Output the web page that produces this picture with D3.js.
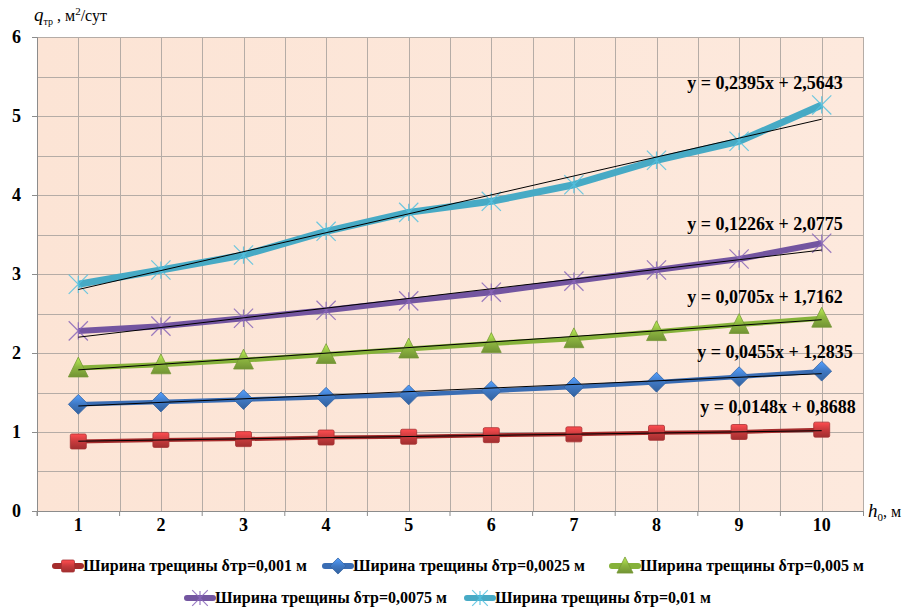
<!DOCTYPE html>
<html><head><meta charset="utf-8">
<script src="https://cdn.jsdelivr.net/npm/d3@7/dist/d3.min.js"></script>
<style>body{margin:0;background:#fff}svg{display:block}</style>
</head><body><svg id="c" width="909" height="608"></svg>
<script>
const categories = [1,2,3,4,5,6,7,8,9,10];
const s001  = [0.88,0.90,0.91,0.93,0.94,0.96,0.97,0.99,1.00,1.03];
const s0025 = [1.35,1.38,1.41,1.44,1.47,1.52,1.57,1.63,1.70,1.77];
const s005  = [1.81,1.85,1.91,1.98,2.05,2.12,2.18,2.27,2.36,2.44];
const s0075 = [2.28,2.34,2.44,2.54,2.66,2.77,2.91,3.05,3.19,3.39];
const s01   = [2.87,3.05,3.24,3.54,3.78,3.92,4.13,4.44,4.68,5.14];
const seriesNames = ["Ширина трещины δтр=0,001 м","Ширина трещины δтр=0,0025 м","Ширина трещины δтр=0,005 м","Ширина трещины δтр=0,0075 м","Ширина трещины δтр=0,01 м"];
const slopes = [0.0148,0.0455,0.0705,0.1226,0.2395];
const intercepts = [0.8688,1.2835,1.7162,2.0775,2.5643];
const eqLabels = ["y = 0,0148x + 0,8688","y = 0,0455x + 1,2835","y = 0,0705x + 1,7162","y = 0,1226x + 2,0775","y = 0,2395x + 2,5643"];
const yTicks = [0,1,2,3,4,5,6];

const allSeries = [s001,s0025,s005,s0075,s01];
const colors = ["#c83a3c","#3f78c3","#8db640","#7a5ca6","#4badc8"];
const lineColors = ["#a52c2c","#3a6db4","#86b23a","#7355a0","#47aac5"];
const lineW = [4,4.5,5,6,7];
const markers = ["square","diamond","triangle","x","x"];

const svg = d3.select("#c");
const L=37, R=863, T=37, B=511;
const x = d3.scaleBand().domain(categories).range([L,R]);
const y = d3.scaleLinear().domain([0,6]).range([B,T]);
const cx = d => x(d)+x.bandwidth()/2;

const defs = svg.append("defs");
const bg = defs.append("linearGradient").attr("id","bg").attr("x1","0").attr("x2","1");
bg.append("stop").attr("offset","0").attr("stop-color","#fce4d5");
bg.append("stop").attr("offset","1").attr("stop-color","#fde9dd");
colors.forEach((c,i)=>{
  const g = defs.append("linearGradient").attr("id","mg"+i).attr("x1","0").attr("y1","0").attr("x2","0").attr("y2","1");
  g.append("stop").attr("offset","0").attr("stop-color",d3.color(c).brighter(0.8));
  g.append("stop").attr("offset","0.5").attr("stop-color",c);
  g.append("stop").attr("offset","1").attr("stop-color",d3.color(c).darker(0.6));
});

svg.append("rect").attr("x",L).attr("y",T).attr("width",R-L).attr("height",B-T).attr("fill","url(#bg)");

// grid
const grid = svg.append("g").attr("stroke","#b5aca6").attr("stroke-width",1);
d3.range(0,6.01,0.5).forEach(v=>{
  grid.append("line").attr("x1",L).attr("x2",R).attr("y1",Math.round(y(v))+0.5).attr("y2",Math.round(y(v))+0.5);
});
d3.range(0,21).forEach(k=>{
  const xx = Math.round(L + k*x.bandwidth()/2)+0.5;
  grid.append("line").attr("x1",xx).attr("x2",xx).attr("y1",T).attr("y2",B);
});

// axes
const yAxis = d3.axisLeft(y).tickValues(yTicks).tickSize(5).tickFormat(d3.format("d"));
const ga = svg.append("g").attr("transform",`translate(${L},0)`).call(yAxis);
ga.select(".domain").attr("stroke","#8c8c8c");
ga.selectAll(".tick line").attr("stroke","#8c8c8c");
ga.selectAll("text").attr("font-family","Liberation Serif").attr("font-weight","bold").attr("font-size",18).attr("fill","#000").attr("dx",-8);

const xAxis = d3.axisBottom(x).tickSize(5);
const gx = svg.append("g").attr("transform",`translate(0,${B})`).call(xAxis);
gx.select(".domain").attr("stroke","#8c8c8c");
gx.selectAll(".tick line").attr("stroke","#8c8c8c").attr("transform",`translate(${-x.bandwidth()/2},0)`);
gx.selectAll("text").attr("font-family","Liberation Serif").attr("font-weight","bold").attr("font-size",18).attr("fill","#000").attr("dy",12);
svg.append("line").attr("x1",R+0.5).attr("x2",R+0.5).attr("y1",B).attr("y2",B+5).attr("stroke","#8c8c8c");

function drawMarker(g, type, i, px, py, size){
  const c = colors[i];
  if(type==="square"){
    g.append("rect").attr("x",px-size/2).attr("y",py-size/2+0.5).attr("width",size).attr("height",size-1).attr("rx",1.5)
      .attr("fill","url(#mg"+i+")").attr("stroke",d3.color(c).darker(0.5)).attr("stroke-width",0.8);
  } else if(type==="diamond"){
    const h=size*0.62;
    g.append("path").attr("d",`M${px},${py-h}L${px+h},${py}L${px},${py+h}L${px-h},${py}Z`)
      .attr("fill","url(#mg"+i+")").attr("stroke",d3.color(c).darker(0.5)).attr("stroke-width",0.8);
  } else if(type==="triangle"){
    const h=size*0.62;
    g.append("path").attr("d",`M${px},${py-h-1}L${px+h},${py+h-1}L${px-h},${py+h-1}Z`)
      .attr("fill","url(#mg"+i+")").attr("stroke",d3.color(c).darker(0.5)).attr("stroke-width",0.8);
  } else {
    const h=size*0.6;
    g.append("path").attr("d",`M${px-h},${py-h}L${px+h},${py+h}M${px-h},${py+h}L${px+h},${py-h}M${px},${py-h*0.9}L${px},${py+h*0.9}`)
      .attr("stroke",d3.color(c).brighter(0.3)).attr("stroke-width",1.2).attr("fill","none").attr("opacity",0.85);
  }
}

const line = d3.line().x((d,j)=>cx(categories[j])).y(d=>y(d));
allSeries.forEach((s,i)=>{
  const g = svg.append("g");
  g.append("path").datum(s).attr("d",line).attr("fill","none").attr("stroke",lineColors[i]).attr("stroke-width",lineW[i]).attr("stroke-linejoin","round");
  s.forEach((v,j)=>drawMarker(g,markers[i],i,cx(categories[j]),y(v),16));
  const x0=categories[0], x1=categories[categories.length-1];
  g.append("line").attr("x1",cx(x0)).attr("y1",y(slopes[i]*x0+intercepts[i]))
    .attr("x2",cx(x1)).attr("y2",y(slopes[i]*x1+intercepts[i])).attr("stroke","#000").attr("stroke-width",1);
});

const eqPos = [[778,407],[775,352],[765,297],[765,224],[765,83]];
eqLabels.forEach((t,i)=>{
  svg.append("text").attr("x",eqPos[i][0]).attr("y",eqPos[i][1]+6).attr("text-anchor","middle")
    .attr("font-family","Liberation Serif").attr("font-weight","bold").attr("font-size",18).text(t);
});

const yt = svg.append("text").attr("x",34).attr("y",21).attr("font-family","Liberation Serif").attr("font-size",16);
yt.append("tspan").attr("font-style","italic").attr("font-size",19).text("q");
yt.append("tspan").attr("font-size",10).attr("dy",4).text("тр");
yt.append("tspan").attr("dy",-4).text(" , м");
yt.append("tspan").attr("font-size",11).attr("dy",-6).text("2");
yt.append("tspan").attr("dy",6).text("/сут");

const xt = svg.append("text").attr("x",868).attr("y",517).attr("font-family","Liberation Serif").attr("font-size",16);
xt.append("tspan").attr("font-style","italic").attr("font-size",19).text("h");
xt.append("tspan").attr("font-size",11).attr("dy",4).text("0");
xt.append("tspan").attr("dy",-4).text(", м");

const legPos = [[55,566],[325,566],[612,566],[187,598],[467,598]];
seriesNames.forEach((n,i)=>{
  const g = svg.append("g");
  const [lx,ly]=legPos[i];
  g.append("line").attr("x1",lx).attr("x2",lx+26).attr("y1",ly).attr("y2",ly).attr("stroke",lineColors[i]).attr("stroke-width",6).attr("stroke-linecap","round");
  drawMarker(g,markers[i],i,lx+13,ly,13);
  g.append("text").attr("x",lx+28).attr("y",ly+5).attr("font-family","Liberation Serif").attr("font-weight","bold").attr("font-size",16).text(n);
});
</script></body></html>
